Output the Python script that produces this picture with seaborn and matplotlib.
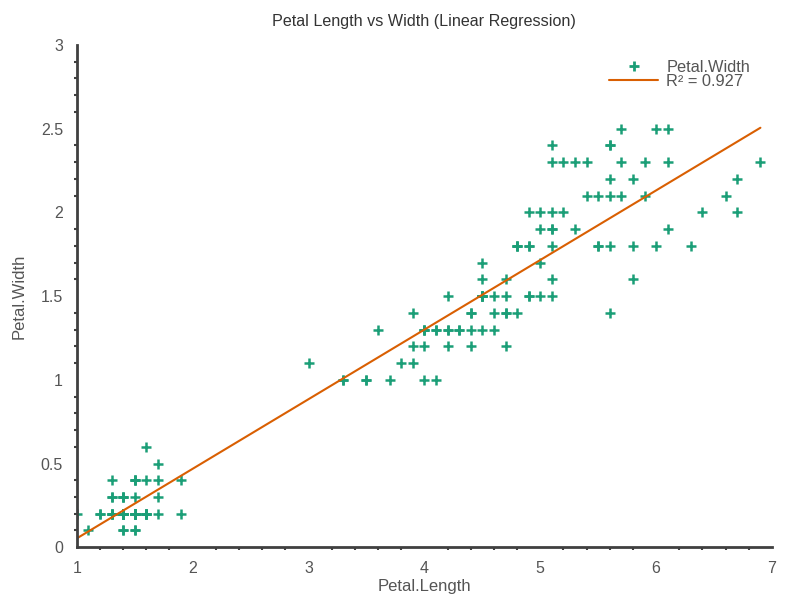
import numpy as np
import pandas as pd
import seaborn as sns
import matplotlib.pyplot as plt
from matplotlib.lines import Line2D
from matplotlib.ticker import MultipleLocator

# iris petal measurements (150 rows)
petal_length = [
    1.4, 1.4, 1.3, 1.5, 1.4, 1.7, 1.4, 1.5, 1.4, 1.5,
    1.5, 1.6, 1.4, 1.1, 1.2, 1.5, 1.3, 1.4, 1.7, 1.5,
    1.7, 1.5, 1.0, 1.7, 1.9, 1.6, 1.6, 1.5, 1.4, 1.6,
    1.6, 1.5, 1.5, 1.4, 1.5, 1.2, 1.3, 1.4, 1.3, 1.5,
    1.3, 1.3, 1.3, 1.6, 1.9, 1.4, 1.6, 1.4, 1.5, 1.4,
    4.7, 4.5, 4.9, 4.0, 4.6, 4.5, 4.7, 3.3, 4.6, 3.9,
    3.5, 4.2, 4.0, 4.7, 3.6, 4.4, 4.5, 4.1, 4.5, 3.9,
    4.8, 4.0, 4.9, 4.7, 4.3, 4.4, 4.8, 5.0, 4.5, 3.5,
    3.8, 3.7, 3.9, 5.1, 4.5, 4.5, 4.7, 4.4, 4.1, 4.0,
    4.4, 4.6, 4.0, 3.3, 4.2, 4.2, 4.2, 4.3, 3.0, 4.1,
    6.0, 5.1, 5.9, 5.6, 5.8, 6.6, 4.5, 6.3, 5.8, 6.1,
    5.1, 5.3, 5.5, 5.0, 5.1, 5.3, 5.5, 6.7, 6.9, 5.0,
    5.7, 4.9, 6.7, 4.9, 5.7, 6.0, 4.8, 4.9, 5.6, 5.8,
    6.1, 6.4, 5.6, 5.1, 5.6, 6.1, 5.6, 5.5, 4.8, 5.4,
    5.6, 5.1, 5.1, 5.9, 5.7, 5.2, 5.0, 5.2, 5.4, 5.1,
]
petal_width = [
    0.2, 0.2, 0.2, 0.2, 0.2, 0.4, 0.3, 0.2, 0.2, 0.1,
    0.2, 0.2, 0.1, 0.1, 0.2, 0.4, 0.4, 0.3, 0.3, 0.3,
    0.2, 0.4, 0.2, 0.5, 0.2, 0.2, 0.4, 0.2, 0.2, 0.2,
    0.2, 0.4, 0.1, 0.2, 0.2, 0.2, 0.2, 0.1, 0.2, 0.2,
    0.3, 0.3, 0.2, 0.6, 0.4, 0.3, 0.2, 0.2, 0.2, 0.2,
    1.4, 1.5, 1.5, 1.3, 1.5, 1.3, 1.6, 1.0, 1.3, 1.4,
    1.0, 1.5, 1.0, 1.4, 1.3, 1.4, 1.5, 1.0, 1.5, 1.1,
    1.8, 1.3, 1.5, 1.2, 1.3, 1.4, 1.4, 1.7, 1.5, 1.0,
    1.1, 1.0, 1.2, 1.6, 1.5, 1.6, 1.5, 1.3, 1.3, 1.3,
    1.2, 1.4, 1.2, 1.0, 1.3, 1.2, 1.3, 1.3, 1.1, 1.3,
    2.5, 1.9, 2.1, 1.8, 2.2, 2.1, 1.7, 1.8, 1.8, 2.5,
    2.0, 1.9, 2.1, 2.0, 2.4, 2.3, 1.8, 2.2, 2.3, 1.5,
    2.3, 2.0, 2.0, 1.8, 2.1, 1.8, 1.8, 1.8, 2.1, 1.6,
    1.9, 2.0, 2.2, 1.5, 1.4, 2.3, 2.4, 1.8, 1.8, 2.1,
    2.4, 2.3, 1.9, 2.3, 2.5, 2.3, 1.9, 2.0, 2.3, 1.8,
]

df = pd.DataFrame({'Petal.Length': petal_length, 'Petal.Width': petal_width})

sns.set_style('white')
plt.rcParams['font.family'] = ['Liberation Sans', 'DejaVu Sans']

point_color = '#1b9e77'
line_color = '#d95f02'
axis_color = '#404040'
text_color = '#555555'

# r squared of the linear fit
r2 = np.corrcoef(df['Petal.Length'], df['Petal.Width'])[0, 1] ** 2

fig = plt.figure(figsize=(8, 6), dpi=100)
ax = fig.add_axes([0.096, 0.088, 0.869, 0.837])

sns.scatterplot(data=df, x='Petal.Length', y='Petal.Width', marker='+',
                color=point_color, s=45, linewidth=1.8, ax=ax, legend=False)
sns.regplot(data=df, x='Petal.Length', y='Petal.Width', scatter=False, ci=None,
            color=line_color, line_kws={'linewidth': 1.5}, ax=ax)

ax.set_xlim(1, 7)
ax.set_ylim(0, 3)
ax.xaxis.set_major_locator(MultipleLocator(1))
ax.xaxis.set_minor_locator(MultipleLocator(0.2))
ax.yaxis.set_minor_locator(MultipleLocator(0.1))
ax.set_yticks([0, 0.5, 1, 1.5, 2, 2.5, 3])
ax.set_yticklabels(['0', '0.5', '1', '1.5', '2', '2.5', '3'])

sns.despine(ax=ax)
for side in ['left', 'bottom']:
    ax.spines[side].set_color(axis_color)
    ax.spines[side].set_linewidth(2)
ax.tick_params(which='major', direction='out', length=4, width=2, color=axis_color,
               labelsize=11.5, labelcolor=text_color, pad=6)
ax.tick_params(which='minor', direction='out', length=2, width=1.5, color=axis_color)
ax.tick_params(axis='x', which='minor', bottom=True)
ax.tick_params(axis='y', which='minor', left=True)

ax.set_xlabel('Petal.Length', fontsize=12, color=text_color, labelpad=2)
ax.set_ylabel('Petal.Width', fontsize=12, color=text_color, labelpad=10)
ax.set_title('Petal Length vs Width (Linear Regression)', fontsize=11.6,
             color='#333333', pad=14)

handles = [
    Line2D([], [], linestyle='none', marker='+', color=point_color,
           markersize=7, markeredgewidth=2),
    Line2D([], [], color=line_color, linewidth=1.5),
]
ax.legend(handles, ['Petal.Width', f'R² = {r2:.3f}'], loc='upper right',
          frameon=False, fontsize=11.8, labelcolor=text_color,
          handlelength=3.0, handletextpad=0.5, labelspacing=-0.05,
          bbox_to_anchor=(0.99, 1.0))

plt.savefig('out.png', dpi=100)
